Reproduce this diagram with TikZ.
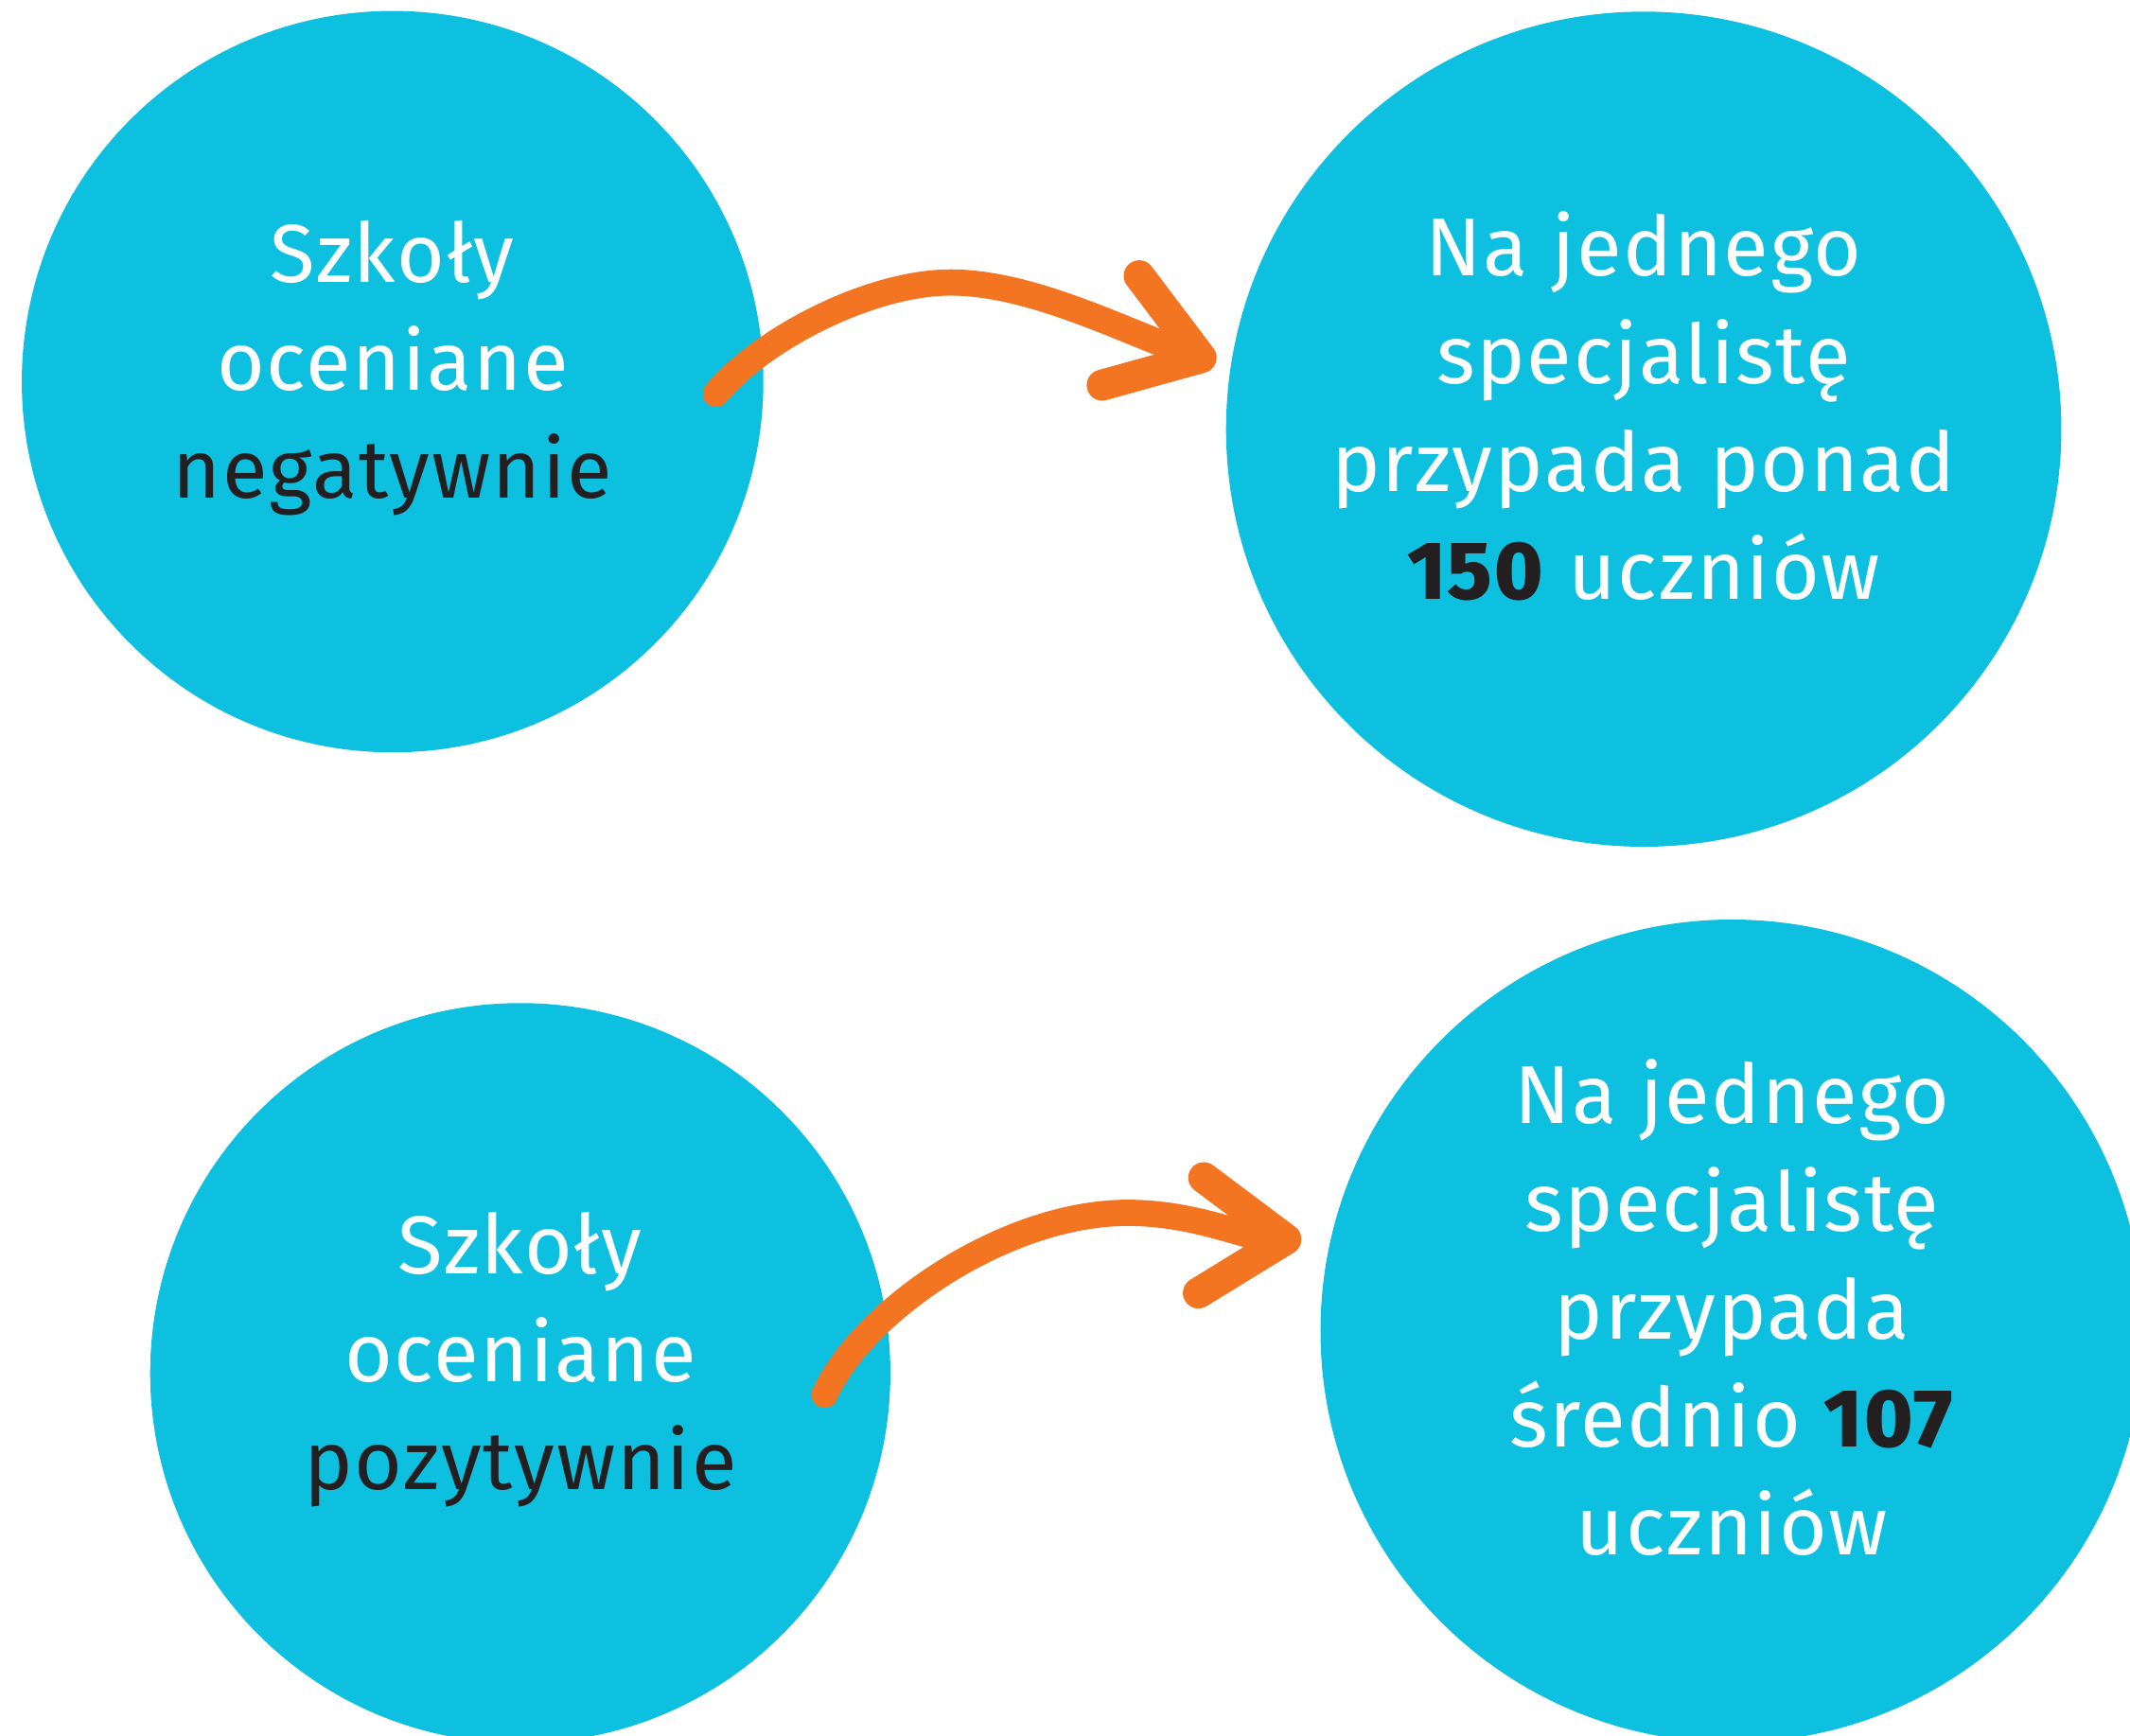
\documentclass[tikz,border=0pt]{standalone}
\usepackage{fontspec}
\setmainfont{Fira Sans}[BoldFont={Fira Sans ExtraBold}, LetterSpace=2]
\usepackage{xcolor}
\definecolor{clDisc}{HTML}{0EC0DF}
\definecolor{clArrow}{HTML}{F37421}
\definecolor{clInk}{HTML}{231F20}
\usetikzlibrary{arrows.meta,calc}
\tikzset{
  disc/.style={circle, fill=clDisc, inner sep=0pt},
  disctext/.style={align=center, text=white, inner sep=0pt,
                   font=\fontsize{34.5}{45.2}\selectfont},
  swoosh/.style={draw=clArrow, line width=11pt, line cap=round,
                 -{Straight Barb[length=12.5mm, width=17mm, line width=13pt, round]}},
}

\begin{document}
\begin{tikzpicture}[x=0.02cm, y=-0.02cm]
  \clip (0,0) rectangle (1568,1278);

  % negative schools (top row)
  \node[disc, minimum size=10.92cm] (neg) at (289,281) {};
  \node[disc, minimum size=12.3cm] (negres) at (1210,316) {};
  \node[disctext] (negtxt) at ($(neg)+(0,-10)$)
    {Szkoły\\oceniane\\\textcolor{clInk}{negatywnie}};
  \node[disctext] (negrestxt) at ($(negres)+(0,-17)$)
    {Na jednego\\specjalistę\\przypada ponad\\\textcolor{clInk}{\textbf{150}} uczniów};

  % positive schools (bottom row)
  \node[disc, minimum size=10.9cm] (pos) at (383,1011) {};
  \node[disc, minimum size=12.12cm] (posres) at (1275,980) {};
  \node[disctext] (postxt) at ($(pos)+(0,-10)$)
    {Szkoły\\oceniane\\\textcolor{clInk}{pozytywnie}};
  \node[disctext] (posrestxt) at ($(posres)+(0,-17)$)
    {Na jednego\\specjalistę\\przypada\\średnio \textcolor{clInk}{\textbf{107}}\\uczniów};

  % arrows
  \coordinate (negfrom) at (527,290);
  \coordinate (negto) at (895,267);
  \coordinate (posfrom) at (607,1027);
  \coordinate (posto) at (958,913);
  \draw[swoosh] (negfrom) .. controls (560,250) and (640,208) .. (700,208)
                          .. controls (760,208) and (830,245) .. (negto);
  \draw[swoosh] (posfrom) .. controls (635,965) and (740,893) .. (830,893)
                          .. controls (880,893) and (915,911) .. (posto);
\end{tikzpicture}
\end{document}
